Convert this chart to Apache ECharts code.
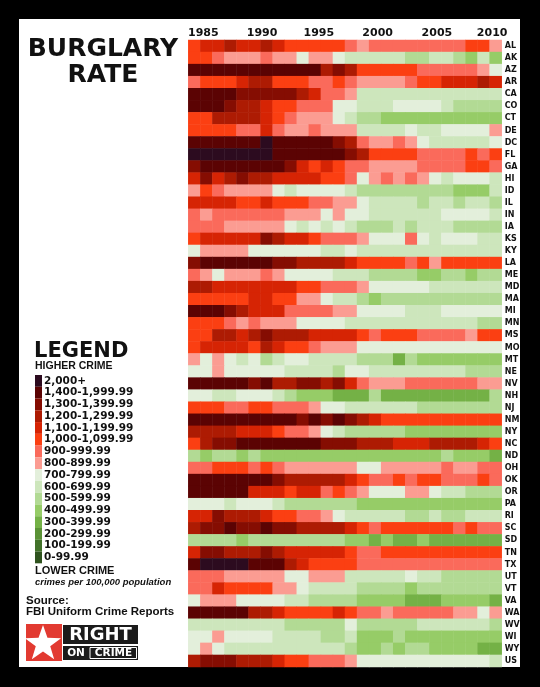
<!DOCTYPE html>
<html>
<head>
<meta charset="utf-8">
<title>Burglary Rate</title>
<script src="https://cdn.jsdelivr.net/npm/echarts@6/dist/echarts.min.js"></script>
<style>
  html, body { margin: 0; padding: 0; background: #000; }
  #panel { position: absolute; left: 19px; top: 19px; width: 501px; height: 648px; background: #fff; }
  #chart { position: absolute; left: 0; top: 0; width: 540px; height: 687px; }
</style>
</head>
<body>
<div id="panel"></div>
<div id="chart"></div>
<script>
const years = ['1985', '1986', '1987', '1988', '1989', '1990', '1991', '1992', '1993', '1994', '1995', '1996', '1997',
  '1998', '1999', '2000', '2001', '2002', '2003', '2004', '2005', '2006', '2007', '2008', '2009', '2010']
const states = ['AL', 'AK', 'AZ', 'AR', 'CA', 'CO', 'CT', 'DE', 'DC', 'FL', 'GA', 'HI', 'ID', 'IL', 'IN', 'IA', 'KS',
  'KY', 'LA', 'ME', 'MD', 'MA', 'MI', 'MN', 'MS', 'MO', 'MT', 'NE', 'NV', 'NH', 'NJ', 'NM', 'NY', 'NC', 'ND', 'OH',
  'OK', 'OR', 'PA', 'RI', 'SC', 'SD', 'TN', 'TX', 'UT', 'VT', 'VA', 'WA', 'WV', 'WI', 'WY', 'US']

// burglaries per 100,000 population, one row per state, 1985..2010 (estimated from the colour bins)
const rates = [
  [1050,1150,1150,1250,1150,1150,1250,1150,1050,1050,1050,1050,1050,950,850,950,950,950,950,950,950,950,950,1050,1050,850], // AL
  [1050,1050,950,850,850,850,950,850,850,750,850,850,750,650,650,650,650,650,550,550,650,650,550,450,650,450], // AK
  [1600,1600,1600,1600,1600,1600,1600,1600,1600,1600,1600,1250,1350,1250,1050,1050,1050,1050,1050,950,950,950,950,950,850,750], // AZ
  [950,1050,1050,1050,1150,1250,1250,1050,1050,1050,950,950,1050,950,850,850,850,850,950,1050,1050,1150,1150,1150,1250,1150], // AR
  [1600,1600,1600,1600,1350,1350,1350,1350,1350,1250,1150,950,950,850,650,650,650,650,650,650,650,650,650,650,650,650], // CA
  [1600,1600,1600,1350,1250,1250,1150,1050,1050,950,950,950,750,750,650,650,650,750,750,750,750,650,550,550,550,550], // CO
  [1050,1050,1250,1250,1250,1250,1150,1050,950,850,850,850,750,650,550,550,450,450,450,450,450,450,450,450,450,450], // CT
  [1050,1050,1050,1050,950,950,1150,950,850,850,950,850,850,850,650,650,650,650,750,650,650,750,750,750,750,850], // DE
  [1600,1600,1600,1600,1600,1600,2100,1600,1600,1600,1600,1600,1350,1250,950,850,850,950,850,750,650,650,650,650,650,750], // DC
  [2100,2100,2100,2100,2100,2100,2100,1600,1600,1600,1600,1600,1600,1350,1250,1050,1050,1050,1050,950,950,950,950,1050,950,1050], // FL
  [1350,1600,1600,1600,1600,1600,1600,1600,1350,1150,1050,1150,1050,950,950,850,850,850,850,950,950,950,950,1050,1050,950], // GA
  [1150,1350,1150,1250,1350,1250,1250,1150,1150,1150,1150,1050,1050,950,750,850,950,850,950,850,750,650,750,750,750,650], // HI
  [850,1050,950,850,850,850,850,750,650,750,750,750,750,650,550,550,550,550,550,550,550,550,450,450,450,650], // ID
  [1150,1150,1150,1150,1050,1050,1150,1050,1050,1050,950,950,850,850,750,650,650,650,650,550,650,650,550,650,650,550], // IL
  [950,850,950,950,950,950,950,950,850,850,850,750,850,750,750,650,650,650,650,650,650,750,750,750,750,650], // IN
  [950,950,950,850,850,850,850,850,750,650,750,650,750,650,550,550,550,650,550,650,650,650,550,550,550,550], // IA
  [1050,1150,1150,1150,1150,1150,1350,1250,1150,1150,1050,950,950,950,850,750,750,750,950,750,650,750,750,750,650,650], // KS
  [750,850,850,850,850,750,750,750,750,750,750,650,650,750,650,650,650,650,650,650,650,650,650,650,650,650], // KY
  [1350,1600,1600,1600,1600,1600,1600,1350,1350,1250,1250,1250,1250,1150,1050,1050,1050,1050,950,1050,850,1050,1050,1050,1050,1050], // LA
  [950,850,750,850,850,850,950,850,750,750,750,750,650,650,650,550,550,550,550,450,450,550,550,450,550,550], // ME
  [1250,1250,1150,1150,1150,1150,1150,1150,1150,1050,1050,950,950,950,850,750,750,750,750,750,650,650,650,650,650,650], // MD
  [1050,1050,1050,1050,1050,1150,1150,1050,1050,850,850,750,650,650,550,450,550,550,550,550,550,550,550,550,550,550], // MA
  [1600,1600,1600,1350,1250,1150,1150,1150,950,950,950,950,850,850,750,750,750,750,650,650,650,750,750,750,750,750], // MI
  [1050,1050,1050,950,850,950,850,850,850,750,750,750,750,650,650,650,650,650,650,650,650,650,650,650,550,550], // MN
  [1050,1050,1250,1250,1150,1250,1350,1250,1250,1250,1150,1150,1150,1150,1050,950,1050,1050,1050,950,950,950,950,850,1050,1050], // MS
  [1050,1150,1150,1150,1150,1050,1250,1150,1050,1050,950,850,850,850,750,750,750,750,750,750,750,750,750,750,750,750], // MO
  [850,750,850,750,650,750,550,650,750,750,650,650,650,650,550,550,550,350,550,450,450,450,450,450,450,450], // MT
  [750,750,850,750,750,750,750,750,650,650,650,650,550,750,750,650,650,650,650,650,650,650,650,550,550,550], // NE
  [1600,1600,1600,1600,1600,1350,1600,1250,1250,1350,1350,1250,1350,1150,950,850,850,850,950,950,950,950,950,950,850,850], // NV
  [750,750,650,650,750,750,750,650,550,450,450,450,350,350,350,550,350,350,350,350,350,350,350,350,350,550], // NH
  [1050,1050,1050,950,950,1050,1050,950,950,950,850,750,750,650,650,650,650,650,650,550,550,550,550,550,550,550], // NJ
  [1600,1600,1600,1600,1600,1600,1600,1600,1600,1350,1600,1350,1600,1350,1250,1150,1050,1050,1050,1050,1050,1050,1050,1050,1050,1050], // NM
  [1250,1250,1250,1250,1150,1150,1150,1050,950,950,850,750,650,550,550,550,550,550,450,450,450,450,450,450,450,450], // NY
  [1050,1250,1350,1350,1600,1600,1600,1600,1600,1600,1600,1350,1350,1350,1250,1250,1250,1150,1150,1150,1250,1250,1250,1250,1150,1050], // NC
  [550,450,550,550,450,550,450,450,450,450,450,450,450,450,450,450,450,450,450,450,450,550,450,450,450,350], // ND
  [950,950,1050,1050,1050,950,1050,950,850,850,850,850,850,850,750,750,850,850,850,850,850,950,850,850,950,950], // OH
  [1600,1600,1600,1600,1600,1600,1600,1350,1250,1250,1250,1250,1250,1150,1050,950,950,1050,950,1050,1050,950,950,950,1050,950], // OK
  [1600,1600,1600,1600,1600,1150,1150,1150,1050,1150,1150,950,1050,950,850,750,750,750,850,850,750,650,650,550,550,550], // OR
  [750,750,750,650,750,750,750,650,550,550,550,550,550,550,450,450,450,450,450,450,450,450,450,450,450,450], // PA
  [1150,1150,1350,1250,1250,1250,1150,1050,1050,950,950,850,750,650,650,650,650,650,550,550,650,550,550,650,650,650], // RI
  [1250,1350,1350,1600,1350,1350,1600,1350,1350,1250,1250,1250,1250,1150,1050,950,1050,1050,1050,1050,1050,1050,950,1050,950,950], // SC
  [550,550,550,550,450,550,550,550,550,550,550,550,550,450,450,350,450,350,350,450,350,350,350,350,350,350], // SD
  [1150,1350,1350,1250,1250,1250,1350,1250,1150,1150,1150,1150,1150,1050,950,950,1050,1050,1050,1050,1050,1050,1050,1050,1050,1050], // TN
  [1600,2100,2100,2100,2100,1600,1600,1600,1250,1150,1050,1050,1050,1050,950,950,950,950,950,950,950,950,950,950,950,950], // TX
  [950,950,950,850,850,850,850,850,750,750,850,850,850,650,650,650,650,650,750,650,650,550,550,550,550,550], // UT
  [950,950,1150,1050,1050,1050,1050,850,850,750,650,650,650,650,550,550,550,550,450,550,550,550,550,550,550,550], // VT
  [750,850,850,850,750,750,750,750,650,650,550,550,550,550,450,450,450,450,350,350,350,450,450,450,450,350], // VA
  [1600,1600,1600,1600,1600,1250,1250,1150,1050,1050,1050,1050,1150,1050,950,950,850,950,950,950,950,950,850,850,750,850], // WA
  [650,650,650,650,650,650,650,650,550,550,550,550,550,750,550,550,550,550,550,650,650,650,650,650,650,550], // WV
  [750,750,850,750,750,750,750,650,650,650,650,550,550,650,450,450,450,550,450,450,450,450,450,450,450,450], // WI
  [750,850,750,650,650,650,650,650,650,650,650,650,650,550,450,450,550,450,550,550,450,450,450,450,350,350], // WY
  [1250,1350,1350,1350,1250,1250,1250,1150,1050,1050,950,950,950,850,750,750,750,750,750,750,750,750,750,750,750,650] // US
]

// legend bins, top to bottom
const binLabels = ['2,000+', '1,400-1,999.99', '1,300-1,399.99', '1,200-1,299.99', '1,100-1,199.99', '1,000-1,099.99',
  '900-999.99', '800-899.99', '700-799.99', '600-699.99', '500-599.99', '400-499.99', '300-399.99', '200-299.99',
  '100-199.99', '0-99.99']
const binLow = [2000, 1400, 1300, 1200, 1100, 1000, 900, 800, 700, 600, 500, 400, 300, 200, 100, 0]
const binColors = ['#2c0b1f', '#5b0303', '#850d02', '#ad1b03', '#d62404', '#fb3f12', '#fa6a5b', '#fb9c92',
  '#e3efdb', '#cde6bc', '#b2da94', '#96cc67', '#74b146', '#5a9236', '#42722a', '#2f531e']

// small nudge of the year labels so they sit like the original
const yearShift = { '1985': [0, 0, 0, 18], '1990': [0, 0, 0, 15], '1995': [0, 0, 0, 8], '2000': [0, 0, 0, 5], '2005': [0, 0, 0, 3], '2010': [0, 7, 0, 0] }

const heatData = []
states.forEach((st, i) => {
  rates[i].forEach((v, j) => {
    heatData.push([j, i, v])
  })
})

const pieces = binLabels.map((label, i) => {
  const p = { gte: binLow[i], label: label, color: binColors[i] }
  if (i > 0) p.lt = binLow[i - 1]
  return p
})

// logo star
const star = []
for (let k = 0; k < 10; k++) {
  const r = k % 2 === 0 ? 19 : 7.6
  const a = -Math.PI / 2 + k * Math.PI / 5
  star.push([43 + r * Math.cos(a), 644 + r * Math.sin(a)])
}

const chart = echarts.init(document.getElementById('chart'))
chart.setOption({
  backgroundColor: 'transparent',
  animation: false,
  title: [
    {
      text: 'BURGLARY\nRATE', left: 103, top: 37, padding: 0, textAlign: 'center', textVerticalAlign: 'top',
      textStyle: { fontFamily: 'DejaVu Sans', fontWeight: 'bold', fontSize: 25, lineHeight: 25.5, color: '#111' }
    },
    {
      text: 'LEGEND', left: 34, top: 341, padding: 0, textVerticalAlign: 'top',
      textStyle: { fontFamily: 'DejaVu Sans', fontWeight: 'bold', fontSize: 21, lineHeight: 21, color: '#111' }
    },
    {
      text: 'HIGHER CRIME', left: 35, top: 361, padding: 0, textVerticalAlign: 'top',
      textStyle: { fontFamily: 'Liberation Sans', fontWeight: 'bold', fontSize: 10.5, lineHeight: 10, color: '#111' }
    },
    {
      text: 'LOWER CRIME', left: 35, top: 565.5, padding: 0, textVerticalAlign: 'top',
      textStyle: { fontFamily: 'Liberation Sans', fontWeight: 'bold', fontSize: 11, lineHeight: 11, color: '#111' }
    },
    {
      text: 'crimes per 100,000 population', left: 35, top: 578, padding: 0, textVerticalAlign: 'top',
      textStyle: { fontFamily: 'Liberation Sans', fontWeight: 'bold', fontStyle: 'italic', fontSize: 9.5, lineHeight: 9.5, color: '#111' }
    },
    {
      text: 'Source:\nFBI Uniform Crime Reports', left: 26, top: 595.5, padding: 0, textVerticalAlign: 'top',
      textStyle: { fontFamily: 'Liberation Sans', fontWeight: 'bold', fontSize: 11.5, lineHeight: 11, color: '#111' }
    }
  ],
  grid: { left: 188.3, top: 40, width: 313.4, height: 627, outerBoundsMode: 'none' },
  xAxis: {
    type: 'category',
    position: 'top',
    data: years.map((y) => (yearShift[y] ? { value: y, textStyle: { padding: yearShift[y] } } : y)),
    axisLine: { show: false },
    axisTick: { show: false },
    splitLine: { show: false },
    axisLabel: { interval: 4, margin: 1.5, fontFamily: 'DejaVu Sans', fontWeight: 'bold', fontSize: 11, color: '#111' }
  },
  yAxis: {
    type: 'category',
    data: states,
    inverse: true,
    position: 'right',
    axisLine: { show: false },
    axisTick: { show: false },
    splitLine: { show: false },
    axisLabel: { interval: 0, margin: 3, fontFamily: 'DejaVu Sans', fontWeight: 'bold', fontSize: 8, color: '#111' }
  },
  visualMap: {
    type: 'piecewise',
    orient: 'vertical',
    left: 35,
    top: 375,
    padding: 0,
    itemWidth: 7,
    itemHeight: 11.77,
    itemGap: 0,
    itemSymbol: 'rect',
    textGap: 2,
    align: 'left',
    selectedMode: false,
    hoverLink: false,
    textStyle: { fontFamily: 'DejaVu Sans', fontWeight: 'bold', fontSize: 10.5, color: '#111' },
    pieces: pieces
  },
  series: [
    {
      type: 'heatmap',
      data: heatData,
      itemStyle: { borderWidth: 0 },
      emphasis: { disabled: true }
    }
  ],
  graphic: [
    { type: 'rect', shape: { x: 26, y: 624, width: 36, height: 37 }, style: { fill: '#e23a31' } },
    { type: 'polygon', shape: { points: star }, style: { fill: '#fff' } },
    { type: 'rect', shape: { x: 63, y: 625, width: 75, height: 19 }, style: { fill: '#1b1b1b' } },
    {
      type: 'text', x: 100.5, y: 635,
      style: { text: 'RIGHT', fill: '#fff', font: 'bold 18px "DejaVu Sans"', align: 'center', verticalAlign: 'middle' }
    },
    { type: 'rect', shape: { x: 63, y: 646, width: 75, height: 14 }, style: { fill: '#1b1b1b' } },
    { type: 'rect', shape: { x: 90, y: 647.5, width: 46.5, height: 11 }, style: { fill: 'none', stroke: '#fff', lineWidth: 1 } },
    {
      type: 'text', x: 76, y: 653,
      style: { text: 'ON', fill: '#fff', font: 'bold 10.5px "DejaVu Sans"', align: 'center', verticalAlign: 'middle' }
    },
    {
      type: 'text', x: 113.5, y: 653,
      style: { text: 'CRIME', fill: '#fff', font: 'bold 10.5px "DejaVu Sans"', align: 'center', verticalAlign: 'middle' }
    }
  ]
})
</script>
</body>
</html>
